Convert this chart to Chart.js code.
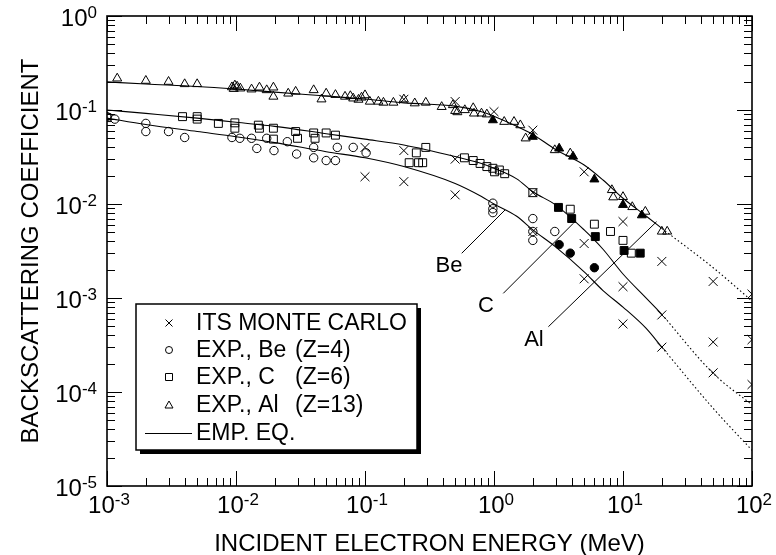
<!DOCTYPE html>
<html>
<head>
<meta charset="utf-8">
<script src="https://cdn.jsdelivr.net/npm/chart.js@4.4.1/dist/chart.umd.min.js"></script>
<style>
  html, body { margin: 0; padding: 0; background: #fff; }
  #wrap { width: 776px; height: 555px; }
</style>
</head>
<body>
<div id="wrap"><canvas id="chart" width="776" height="555"></canvas></div>
<script>
// ITS Monte Carlo (all three targets)
const itsEnergy = [0.1, 0.1, 0.2, 0.2, 0.2, 0.5, 0.5, 0.5, 1, 2, 2, 2, 5, 5, 5, 10, 10, 10, 20, 20, 20, 50, 50, 50, 100, 100, 100];
const itsCoef = [0.040, 0.0195, 0.13, 0.037, 0.0173, 0.123, 0.030, 0.0125, 0.096, 0.061, 0.0132, 0.0051, 0.022, 0.0038, 0.0016,
  0.0065, 0.00132, 0.00053, 0.00245, 0.00066, 0.00030, 0.0015, 0.00034, 0.00016, 0.0011, 0.00036, 0.00012];

// experiments, Be
const beEnergy = [0.001, 0.00115, 0.002, 0.002, 0.003, 0.004, 0.0093, 0.0107, 0.0132, 0.0145, 0.0173, 0.0197, 0.025, 0.0295,
  0.040, 0.040, 0.050, 0.059, 0.061, 0.081, 0.102, 0.98, 0.98, 0.98, 2.0, 2.0, 2.0, 2.96];
const beCoef = [0.085, 0.080, 0.072, 0.059, 0.059, 0.051, 0.051, 0.050, 0.050, 0.039, 0.050, 0.037, 0.046, 0.034,
  0.040, 0.031, 0.029, 0.029, 0.040, 0.040, 0.035, 0.0102, 0.0089, 0.0081, 0.0070, 0.0051, 0.0041, 0.0051];
const beFilledEnergy = [3.2, 3.9, 6.0];
const beFilledCoef = [0.0037, 0.0030, 0.0021];

// experiments, C
const cEnergy = [0.001, 0.00385, 0.005, 0.005, 0.0073, 0.0098, 0.0098, 0.0149, 0.0152, 0.0195, 0.0195, 0.029, 0.030, 0.040,
  0.041, 0.050, 0.059, 0.22, 0.25, 0.26, 0.28, 0.296, 0.59, 0.69, 0.78, 0.88, 0.98, 1.01, 1.1, 1.21, 2.0, 3.9, 6.0, 8.0, 10, 11.6];
const cCoef = [0.083, 0.085, 0.085, 0.080, 0.072, 0.073, 0.064, 0.069, 0.064, 0.064, 0.049, 0.059, 0.050, 0.057,
  0.050, 0.057, 0.054, 0.0275, 0.035, 0.0275, 0.0275, 0.040, 0.031, 0.029, 0.027, 0.025, 0.024, 0.022, 0.023, 0.021,
  0.0132, 0.0088, 0.0061, 0.0051, 0.0041, 0.0030];
const cFilledEnergy = [3.16, 4.0, 6.1, 10.2, 13.6];
const cFilledCoef = [0.0092, 0.0070, 0.0045, 0.0032, 0.0030];

// experiments, Al
const alEnergy = [0.0012, 0.002, 0.003, 0.004, 0.005, 0.0093, 0.0096, 0.0098, 0.0102, 0.0108, 0.0132, 0.0152, 0.0173, 0.0195,
  0.0195, 0.0254, 0.029, 0.040, 0.046, 0.050, 0.059, 0.070, 0.077, 0.081, 0.089, 0.094, 0.100, 0.109, 0.127, 0.139,
  0.166, 0.20, 0.243, 0.296, 0.393, 0.48, 0.50, 0.52, 0.594, 0.69, 0.70, 0.80, 0.88, 1.2, 1.43, 1.6, 1.76, 2.96, 3.9,
  8.2, 8.4, 10, 11.8, 14.9, 20, 22];
const alCoef = [0.217, 0.205, 0.200, 0.189, 0.189, 0.175, 0.168, 0.183, 0.178, 0.170, 0.166, 0.174, 0.163, 0.174,
  0.139, 0.150, 0.157, 0.163, 0.130, 0.150, 0.145, 0.139, 0.141, 0.133, 0.129, 0.136, 0.144, 0.123, 0.123, 0.120,
  0.120, 0.130, 0.118, 0.120, 0.108, 0.113, 0.098, 0.095, 0.100, 0.105, 0.092, 0.092, 0.090, 0.075, 0.075, 0.069, 0.050,
  0.0375, 0.0346, 0.0141, 0.0118, 0.0119, 0.0093, 0.0083, 0.0051, 0.0051];
const alFilledEnergy = [0.98, 2.0, 3.2, 4.1, 6.0, 10, 14];
const alFilledCoef = [0.078, 0.052, 0.039, 0.032, 0.0183, 0.0098, 0.0076];

// empirical equation, solid part and dotted extension
const empEnergy = [0.001, 0.002, 0.005, 0.01, 0.02, 0.05, 0.1, 0.2, 0.5, 0.8, 1, 1.5, 2, 3, 5, 7, 10, 15, 20];
const empAl = [0.199, 0.189, 0.178, 0.167, 0.155, 0.141, 0.131, 0.119, 0.110, 0.096, 0.086, 0.067, 0.055, 0.038, 0.026, 0.018, 0.0115, 0.0075, 0.0055];
const empC = [0.100, 0.092, 0.082, 0.074, 0.067, 0.056, 0.049, 0.0425, 0.032, 0.027, 0.024, 0.0185, 0.0135, 0.0098, 0.0053, 0.0033, 0.0018, 0.00101, 0.00067];
const empBe = [0.082, 0.070, 0.059, 0.052, 0.045, 0.036, 0.031, 0.025, 0.0165, 0.012, 0.0100, 0.0074, 0.0053, 0.0035, 0.0019, 0.0012, 0.0008, 0.00048, 0.00030];
const extEnergy = [20, 50, 100];
const extAl = [0.0055, 0.0021, 0.00093];
const extC = [0.00067, 0.000158, 0.000073];
const extBe = [0.00030, 0.000067, 0.000024];

const xDecades = [-3, -2, -1, 0, 1, 2];
const yDecades = [0, -1, -2, -3, -4, -5];

// leader lines: [E1, b1, E2, b2], label at [E, b]
const leaders = [
  { text: 'Be', line: [0.562, 0.00299, 1.217, 0.00863], at: [0.448, 0.00219] },
  { text: 'C', line: [1.18, 0.00112, 4.12, 0.00623], at: [0.867, 0.000822] },
  { text: 'Al', line: [2.64, 0.000495, 18.2, 0.00648], at: [2.04, 0.000357] }
];

const FONT = '"Liberation Sans", Arial, Helvetica, sans-serif';

function pts(xs, ys) {
  return xs.map((x, i) => ({ x: x, y: ys[i] }));
}

function lineSet(xs, ys, dotted) {
  return {
    data: pts(xs, ys), showLine: true, pointRadius: 0, borderColor: '#000',
    borderWidth: 1.1, borderDash: dotted ? [1.5, 2.5] : [], cubicInterpolationMode: 'monotone'
  };
}

function markSet(xs, ys, style, r, filled) {
  return {
    data: pts(xs, ys), showLine: false, pointStyle: style, pointRadius: r,
    pointBorderColor: '#000', pointBackgroundColor: filled ? '#000' : 'rgba(0,0,0,0)',
    pointBorderWidth: 1
  };
}

function sup(ctx, exp, x, y, align, big, small, raise) {
  ctx.font = big + 'px ' + FONT;
  const w1 = ctx.measureText('10').width;
  ctx.font = small + 'px ' + FONT;
  const w2 = ctx.measureText(String(exp)).width;
  const total = w1 + w2;
  let left = align === 'right' ? x - total : x - total / 2;
  ctx.textAlign = 'left';
  ctx.textBaseline = 'alphabetic';
  ctx.font = big + 'px ' + FONT;
  ctx.fillText('10', left, y);
  ctx.font = small + 'px ' + FONT;
  ctx.fillText(String(exp), left + w1, y - raise);
}

function legendMark(ctx, style, x, y) {
  ctx.save();
  ctx.strokeStyle = '#000';
  ctx.lineWidth = 1;
  ctx.beginPath();
  if (style === 'cross') {
    ctx.moveTo(x - 3.5, y - 3.5); ctx.lineTo(x + 3.5, y + 3.5);
    ctx.moveTo(x + 3.5, y - 3.5); ctx.lineTo(x - 3.5, y + 3.5);
  } else if (style === 'circle') {
    ctx.arc(x, y, 3.5, 0, Math.PI * 2);
  } else if (style === 'rect') {
    ctx.rect(x - 3.5, y - 3.5, 7, 7);
  } else if (style === 'triangle') {
    ctx.moveTo(x, y - 4); ctx.lineTo(x + 4, y + 3); ctx.lineTo(x - 4, y + 3); ctx.closePath();
  }
  ctx.stroke();
  ctx.restore();
}

const framePlugin = {
  id: 'frame',
  afterDraw(chart) {
    const ctx = chart.ctx;
    const a = chart.chartArea;
    const xs = chart.scales.x, ys = chart.scales.y;
    ctx.save();
    ctx.strokeStyle = '#000';
    ctx.fillStyle = '#000';

    // ticks on all four sides, pointing inward
    ctx.lineWidth = 1;
    ctx.beginPath();
    xDecades.forEach(d => {
      for (let m = 1; m <= 9; m++) {
        const v = m * Math.pow(10, d);
        if (v > xs.max * 1.0001) break;
        const px = Math.round(xs.getPixelForValue(v)) + 0.5;
        const len = m === 1 ? 15 : 8;
        ctx.moveTo(px, a.bottom); ctx.lineTo(px, a.bottom - len);
        ctx.moveTo(px, a.top); ctx.lineTo(px, a.top + len);
      }
    });
    yDecades.forEach(d => {
      for (let m = 1; m <= 9; m++) {
        const v = m * Math.pow(10, d);
        if (v > ys.max * 1.0001) break;
        const py = Math.round(ys.getPixelForValue(v)) + 0.5;
        const len = m === 1 ? 15 : 8;
        ctx.moveTo(a.left, py); ctx.lineTo(a.left + len, py);
        ctx.moveTo(a.right, py); ctx.lineTo(a.right - len, py);
      }
    });
    ctx.stroke();

    ctx.lineWidth = 1.6;
    ctx.strokeRect(a.left, a.top, a.right - a.left, a.bottom - a.top);

    // tick labels
    xDecades.forEach(d => {
      sup(ctx, d, xs.getPixelForValue(Math.pow(10, d)) + 2, a.bottom + 27, 'center', 24, 17, 8);
    });
    yDecades.forEach(d => {
      sup(ctx, d, a.left - 10, ys.getPixelForValue(Math.pow(10, d)) + 10, 'right', 24, 17, 8);
    });

    // axis titles
    ctx.font = '24px ' + FONT;
    ctx.textAlign = 'center';
    ctx.textBaseline = 'alphabetic';
    ctx.fillText('INCIDENT ELECTRON ENERGY (MeV)', (a.left + a.right) / 2, 551);
    ctx.save();
    ctx.translate(38, (a.top + a.bottom) / 2);
    ctx.rotate(-Math.PI / 2);
    ctx.fillText('BACKSCATTERING COEFFICIENT', 0, 0);
    ctx.restore();

    // leader lines and labels
    ctx.lineWidth = 1;
    ctx.font = '22px ' + FONT;
    leaders.forEach(l => {
      ctx.beginPath();
      ctx.moveTo(xs.getPixelForValue(l.line[0]), ys.getPixelForValue(l.line[1]));
      ctx.lineTo(xs.getPixelForValue(l.line[2]), ys.getPixelForValue(l.line[3]));
      ctx.stroke();
      ctx.textAlign = 'center';
      ctx.textBaseline = 'middle';
      ctx.fillText(l.text, xs.getPixelForValue(l.at[0]), ys.getPixelForValue(l.at[1]));
    });

    // legend box with drop shadow
    const bx = 136, by = 304, bw = 281, bh = 146;
    ctx.fillRect(bx + 4, by + 4, bw, bh);
    ctx.fillStyle = '#fff';
    ctx.fillRect(bx, by, bw, bh);
    ctx.lineWidth = 1.5;
    ctx.strokeRect(bx, by, bw, bh);
    ctx.fillStyle = '#000';
    const rows = [
      ['cross', 'ITS MONTE CARLO', ''],
      ['circle', 'EXP., Be', '(Z=4)'],
      ['rect', 'EXP., C', '(Z=6)'],
      ['triangle', 'EXP., Al', '(Z=13)'],
      ['line', 'EMP. EQ.', '']
    ];
    const rowY = [323, 350, 377, 405, 433];
    ctx.font = '23px ' + FONT;
    ctx.textAlign = 'left';
    ctx.textBaseline = 'middle';
    rows.forEach((r, i) => {
      if (r[0] === 'line') {
        ctx.lineWidth = 1;
        ctx.beginPath();
        ctx.moveTo(145, rowY[i] + 0.5); ctx.lineTo(192, rowY[i] + 0.5);
        ctx.stroke();
      } else {
        legendMark(ctx, r[0], 169, rowY[i]);
      }
      ctx.fillText(r[1], 196, rowY[i] + 1);
      if (r[2]) ctx.fillText(r[2], 295, rowY[i] + 1);
    });
    ctx.restore();
  }
};

const datasets = [
  lineSet(empEnergy, empAl, false),
  lineSet(extEnergy, extAl, true),
  lineSet(empEnergy, empC, false),
  lineSet(extEnergy, extC, true),
  lineSet(empEnergy, empBe, false),
  lineSet(extEnergy, extBe, true),
  markSet(itsEnergy, itsCoef, 'crossRot', 6.3, false),
  markSet(beEnergy, beCoef, 'circle', 4.2, false),
  markSet(beFilledEnergy, beFilledCoef, 'circle', 4.2, true),
  markSet(cEnergy, cCoef, 'rect', 5.6, false),
  markSet(cFilledEnergy, cFilledCoef, 'rect', 5.6, true),
  markSet(alEnergy, alCoef, 'triangle', 5.2, false),
  markSet(alFilledEnergy, alFilledCoef, 'triangle', 5.2, true)
];

new Chart(document.getElementById('chart').getContext('2d'), {
  type: 'scatter',
  data: { datasets: datasets },
  options: {
    responsive: false,
    animation: false,
    devicePixelRatio: 1,
    layout: { padding: { left: 107, right: 24, top: 16, bottom: 69 } },
    plugins: { legend: { display: false }, tooltip: { enabled: false } },
    scales: {
      x: { type: 'logarithmic', display: false, min: 1e-3, max: 1e2 },
      y: { type: 'logarithmic', display: false, min: 1e-5, max: 1 }
    }
  },
  plugins: [framePlugin]
});
</script>
</body>
</html>
